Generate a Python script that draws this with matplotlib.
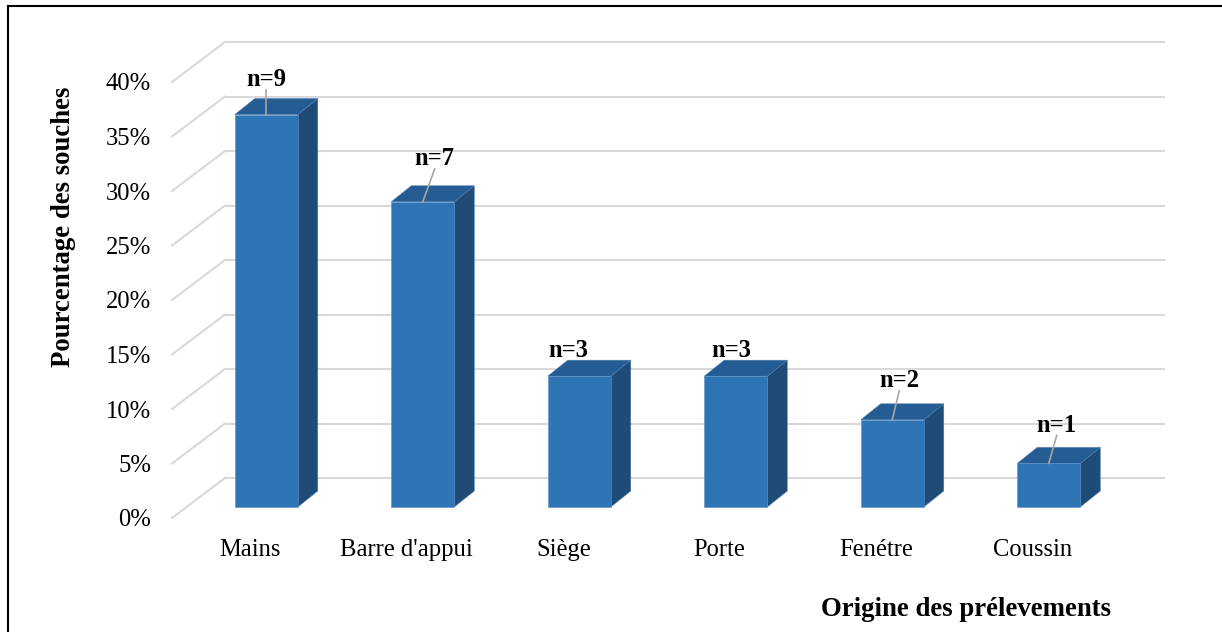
import matplotlib
matplotlib.use("Agg")
import matplotlib.pyplot as plt
from matplotlib.patches import Polygon
from matplotlib.lines import Line2D

# data
categories = ["Mains", "Barre d'appui", "Siège", "Porte", "Fenétre", "Coussin"]
counts = [9, 7, 3, 3, 2, 1]
percents = [36, 28, 12, 12, 8, 4]
labels = ["n=%d" % c for c in counts]
yticks = [0, 5, 10, 15, 20, 25, 30, 35, 40]

# layout (pixel-derived, converted to data units)
PX_X = 156.5  # px per category unit
PX_Y = 10.9   # px per percent
wall_dx, wall_dy = 53 / PX_X, 40 / PX_Y
bar_off_x, bar_off_y = 16 / PX_X, 11 / PX_Y
bar_dx, bar_dy = 20 / PX_X, 16 / PX_Y
bar_w = 63 / PX_X
label_off = [(0, 35), (12, 43), (-11, 26), (-4, 26), (7, 39), (8, 38)]

c_front = "#2E75B6"
c_top = "#245C93"
c_side = "#1F4B77"
c_grid = "#D9D9D9"

plt.rcParams['font.family'] = ['Liberation Serif', 'DejaVu Serif']

fig = plt.figure(figsize=(12.22, 6.32), dpi=100)
ax = fig.add_axes([172 / 1222, (632 - 518) / 632, 992 / 1222, 476 / 632])
ax.set_xlim(-0.5, 5.5 + wall_dx)
ax.set_ylim(0, 40 + wall_dy)
for s in ax.spines.values():
	s.set_visible(False)

# back wall gridlines + floor diagonals
x0 = -0.5
x1 = 5.5 + wall_dx
for v in yticks:
	ax.plot([x0, x0 + wall_dx], [v, v + wall_dy], color=c_grid, lw=1.5, zorder=1, clip_on=False)
	ax.plot([x0 + wall_dx, x1], [v + wall_dy, v + wall_dy], color=c_grid, lw=1.5, zorder=1, clip_on=False)

# 3d bars
for i, p in enumerate(percents):
	xl = i - bar_w / 2 + bar_off_x
	xr = xl + bar_w
	yb = bar_off_y
	yt = bar_off_y + p
	front = [(xl, yb), (xr, yb), (xr, yt), (xl, yt)]
	top = [(xl, yt), (xr, yt), (xr + bar_dx, yt + bar_dy), (xl + bar_dx, yt + bar_dy)]
	side = [(xr, yb), (xr + bar_dx, yb + bar_dy), (xr + bar_dx, yt + bar_dy), (xr, yt)]
	ax.add_patch(Polygon(side, closed=True, fc=c_side, ec="#4A7DB0", lw=0.4, zorder=3))
	ax.add_patch(Polygon(top, closed=True, fc=c_top, ec="#4A7DB0", lw=0.4, zorder=3))
	ax.add_patch(Polygon(front, closed=True, fc=c_front, ec="#5B8FC7", lw=0.4, zorder=4))

	# data labels with leader lines
	cx = i + bar_off_x
	ox, oy = label_off[i]
	tx = cx + ox / PX_X
	ty = yt + oy / PX_Y
	ax.text(tx, ty, labels[i], ha="center", va="center", fontsize=17.7, fontweight="bold", zorder=6)
	if oy - 10 > 20:
		ax.plot([cx, tx], [yt, ty - 10 / PX_Y], color="#A6A6A6", lw=1.2, zorder=5)

ax.set_yticks(yticks)
ax.set_yticklabels(["%d%%" % v for v in yticks], fontsize=17.7)
ax.set_xticks(range(len(categories)))
ax.set_xticklabels(categories, fontsize=17.7)
ax.tick_params(axis="y", length=0, pad=15)
ax.tick_params(axis="x", length=0, pad=15)

fig.text(64 / 1222, 1 - 227 / 632, "Pourcentage des souches", rotation=90, ha="center", va="center",
	fontsize=19.3, fontweight="bold")
fig.text(966 / 1222, 1 - 610 / 632, "Origine des prélevements", ha="center", va="center",
	fontsize=19.3, fontweight="bold")

# frame (top and left edges visible)
fig.add_artist(Line2D([8 / 1222, 1], [1 - 6 / 632, 1 - 6 / 632], color="black", lw=1.5, transform=fig.transFigure))
fig.add_artist(Line2D([8 / 1222, 8 / 1222], [0, 1 - 6 / 632], color="black", lw=1.5, transform=fig.transFigure))

fig.savefig("out.png", dpi=100, facecolor="white")
